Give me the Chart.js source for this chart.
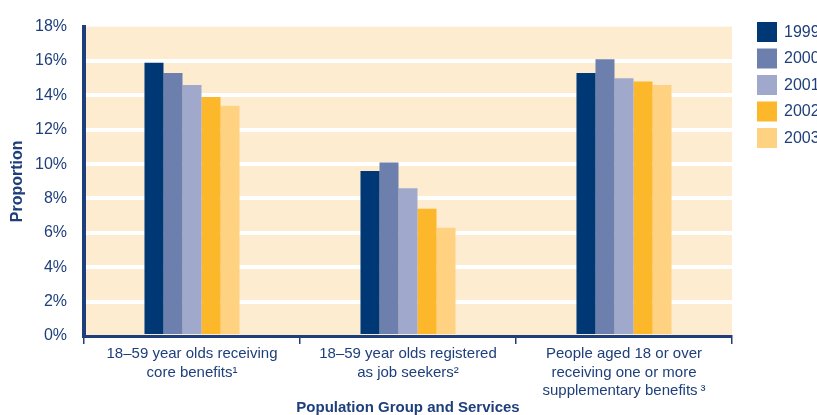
<!DOCTYPE html>
<html>
<head>
<meta charset="utf-8">
<script src="https://cdn.jsdelivr.net/npm/chart.js@4.4.0/dist/chart.umd.min.js"></script>
<style>
  html, body { margin: 0; padding: 0; background: #fff; }
  #wrap { width: 817px; height: 415px; }
</style>
</head>
<body>
<div id="wrap"><canvas id="chart"></canvas></div>
<script>
// population groups (x axis), one label line per array entry
var groups = [
    ['18\u201359 year olds receiving', 'core benefits\u00b9'],
    ['18\u201359 year olds registered', 'as job seekers\u00b2'],
    ['People aged 18 or over', 'receiving one or more', 'supplementary benefits\u2009\u00b3']
];
var years = ['1999', '2000', '2001', '2002', '2003'];

// proportion (%) per group, one array per year
var v1999 = [15.9, 9.6, 15.3];
var v2000 = [15.3, 10.1, 16.1];
var v2001 = [14.6, 8.6, 15.0];
var v2002 = [13.9, 7.4, 14.8];
var v2003 = [13.4, 6.3, 14.6];

var yTicks = [0, 2, 4, 6, 8, 10, 12, 14, 16, 18];

var colors = ['#003876', '#6d7fad', '#a0a9cb', '#fdb72b', '#ffd282'];
var navy = '#1e3f7b';
var cream = '#fdecd0';
var fontFamily = "'Liberation Sans', Arial, sans-serif";

Chart.defaults.font.family = fontFamily;
Chart.defaults.color = navy;

// cream fill behind the plot
var plotBg = {
    id: 'plotBg',
    beforeDraw: function(chart) {
        var a = chart.chartArea, c = chart.ctx;
        c.save();
        c.fillStyle = cream;
        c.fillRect(a.left, a.top, a.right - a.left, a.bottom - a.top);
        c.restore();
    }
};

// legend column on the right
var sideLegend = {
    id: 'sideLegend',
    afterDraw: function(chart) {
        var c = chart.ctx;
        c.save();
        c.font = '16px ' + fontFamily;
        c.textBaseline = 'middle';
        chart.data.datasets.forEach(function(ds, i) {
            var y = 22 + i * 26.5;
            c.fillStyle = ds.backgroundColor;
            c.fillRect(757, y, 20, 20);
            c.fillStyle = navy;
            c.fillText(ds.label, 784, y + 10.5);
        });
        c.restore();
    }
};

var series = [v1999, v2000, v2001, v2002, v2003];

var ctx = document.getElementById('chart');
var myChart = new Chart(ctx, {
    type: 'bar',
    data: {
        labels: groups,
        datasets: years.map(function(y, i) {
            return {
                label: y,
                data: series[i],
                backgroundColor: colors[i],
                borderWidth: 0,
                barPercentage: 1,
                categoryPercentage: 0.44
            };
        })
    },
    options: {
        responsive: true,
        maintainAspectRatio: false,
        animation: false,
        layout: { padding: { left: 0, right: 85, top: 24, bottom: 0 } },
        plugins: {
            legend: { display: false },
            tooltip: { enabled: false }
        },
        scales: {
            x: {
                z: 1,
                afterFit: function(scale) { scale.height = 79; },
                grid: {
                    drawOnChartArea: false,
                    drawTicks: true,
                    tickLength: 8,
                    color: navy,
                    lineWidth: 1.5
                },
                border: { display: true, color: navy, width: 3 },
                ticks: {
                    font: { size: 15, lineHeight: 1.23 },
                    color: navy,
                    padding: 1,
                    maxRotation: 0,
                    autoSkip: false
                },
                title: {
                    display: true,
                    text: 'Population Group and Services',
                    font: { size: 15, weight: 'bold', lineHeight: 1 },
                    color: navy,
                    padding: { top: 0, bottom: 0 }
                }
            },
            y: {
                min: 0,
                max: 18,
                afterFit: function(scale) { scale.width = 84; },
                afterBuildTicks: function(scale) {
                    scale.ticks = yTicks.map(function(v) { return { value: v }; });
                },
                grid: {
                    drawTicks: false,
                    lineWidth: 4,
                    color: function(c) {
                        var v = c.tick ? c.tick.value : 0;
                        return (v === 0 || v === 18) ? 'rgba(0,0,0,0)' : '#ffffff';
                    }
                },
                border: { display: true, color: navy, width: 4 },
                ticks: {
                    font: { size: 16 },
                    color: navy,
                    padding: 17,
                    callback: function(v) { return v + '%'; }
                },
                title: {
                    display: true,
                    text: 'Proportion',
                    font: { size: 16, weight: 'bold' },
                    color: navy,
                    padding: { top: 8, bottom: 8 }
                }
            }
        }
    },
    plugins: [plotBg, sideLegend]
});
</script>
</body>
</html>
